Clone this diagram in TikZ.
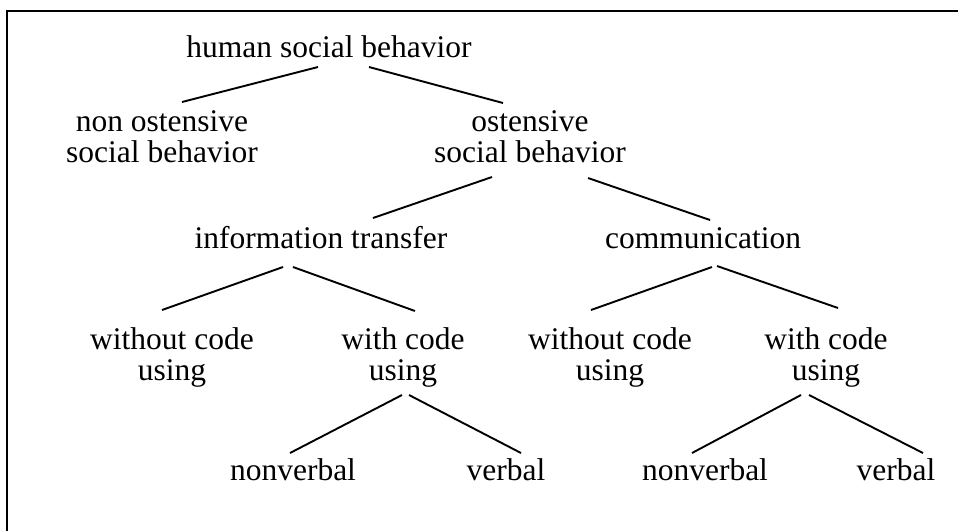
\documentclass[tikz,border=0pt]{standalone}
\usepackage{fontspec}
\setmainfont{Liberation Serif}
\begin{document}
\begin{tikzpicture}[x=1pt,y=-1pt,
  lbl/.style={inner sep=0pt,align=center,font=\fontsize{31.5}{31}\selectfont},
  link/.style={line width=1.9pt,line cap=butt},
  frame/.style={line width=2pt}]
\useasboundingbox (0,0) rectangle (958,531);
\draw[frame] (6.5,531) -- (6.5,10.5) -- (958,10.5);
% nodes
\node[lbl,anchor=base] (hsb) at (329,57) {human social behavior};
\node[lbl] (non) at (162,136.8) {non ostensive\\social behavior};
\node[lbl] (ost) at (530,136.8) {ostensive\\social behavior};
\node[lbl,anchor=base] (info) at (321,248) {information transfer};
\node[lbl,anchor=base] (comm) at (703,248) {communication};
\node[lbl] (woL) at (172,357.2) {without code\\using};
\node[lbl] (wL) at (403,357.2) {with code\\using};
\node[lbl] (woR) at (610,357.2) {without code\\using};
\node[lbl] (wR) at (826,357.2) {with code\\using};
\node[lbl,anchor=base] (nvL) at (293,480) {nonverbal};
\node[lbl,anchor=base] (vL) at (506,480) {verbal};
\node[lbl,anchor=base] (nvR) at (705,480) {nonverbal};
\node[lbl,anchor=base] (vR) at (896,480) {verbal};
% connectors
\draw[link] ([shift={(-11,10)}]hsb.base) -- ([shift={(20,-34.8)}]non.center);
\draw[link] ([shift={(40,10)}]hsb.base) -- ([shift={(-27,-33.8)}]ost.center);
\draw[link] ([shift={(-38,40.2)}]ost.center) -- ([shift={(52,-30)}]info.base);
\draw[link] ([shift={(58,41.2)}]ost.center) -- ([shift={(7,-28)}]comm.base);
\draw[link] ([shift={(-38,19)}]info.base) -- ([shift={(-10,-47.2)}]woL.center);
\draw[link] ([shift={(-28,19)}]info.base) -- ([shift={(12,-46.2)}]wL.center);
\draw[link] ([shift={(-1,37.8)}]wL.center) -- ([shift={(-3,-27)}]nvL.base);
\draw[link] ([shift={(6,37.8)}]wL.center) -- ([shift={(15,-27)}]vL.base);
\draw[link] ([shift={(9,19)}]comm.base) -- ([shift={(-19,-47.2)}]woR.center);
\draw[link] ([shift={(14,18)}]comm.base) -- ([shift={(12,-49.2)}]wR.center);
\draw[link] ([shift={(-25,37.8)}]wR.center) -- ([shift={(-13,-27)}]nvR.base);
\draw[link] ([shift={(-17,37.8)}]wR.center) -- ([shift={(27,-27)}]vR.base);
\end{tikzpicture}
\end{document}
